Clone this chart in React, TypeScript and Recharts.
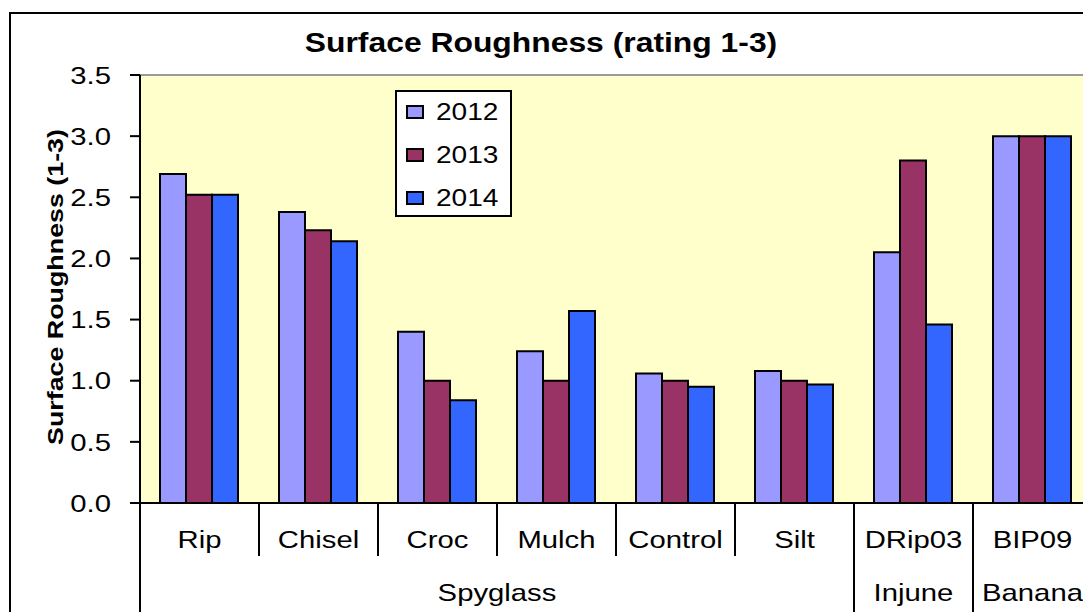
import { BarChart, Bar, XAxis, YAxis, CartesianGrid, Legend, ReferenceLine } from 'recharts';

const categories = ['Rip', 'Chisel', 'Croc', 'Mulch', 'Control', 'Silt', 'DRip03', 'BIP09'];
const sites = ['Spyglass', 'Injune', 'Banana'];
const siteSizes = [6, 1, 1];

const rating2012 = [2.69, 2.38, 1.4, 1.24, 1.06, 1.08, 2.05, 3.0];
const rating2013 = [2.52, 2.23, 1.0, 1.0, 1.0, 1.0, 2.8, 3.0];
const rating2014 = [2.52, 2.14, 0.84, 1.57, 0.95, 0.97, 1.46, 3.0];

const yTicks = [0, 0.5, 1, 1.5, 2, 2.5, 3, 3.5];

const series = [
  { key: 'y2012', name: '2012', color: '#9999FF' },
  { key: 'y2013', name: '2013', color: '#993366' },
  { key: 'y2014', name: '2014', color: '#3366FF' },
];

const data = categories.map((name, i) => ({
  name,
  y2012: rating2012[i],
  y2013: rating2013[i],
  y2014: rating2014[i],
}));

// index of the first category of each site
const siteStarts = siteSizes.map((_, i) => siteSizes.slice(0, i).reduce((a, b) => a + b, 0));

const FONT = "'Liberation Sans', Arial, sans-serif";
const STRETCH = 1.22; // the original text is drawn wide
const LABEL_SIZE = 24;

const CHART_W = 1100;
const CHART_H = 640;
const PLOT_LEFT = 140;
const PLOT_RIGHT_GAP = 8;
const PLOT_TOP = 75;
const X_AXIS_H = 137;

function CategoryTick(props: any) {
  const { x, y, payload } = props;
  const index = categories.indexOf(payload.value);
  const half =
    payload.offset || (CHART_W - PLOT_LEFT - PLOT_RIGHT_GAP) / categories.length / 2;
  const siteIdx = siteStarts.indexOf(index);
  const isStart = siteIdx >= 0;
  const isLast = index === categories.length - 1;
  return (
    <g>
      <line
        x1={x - half}
        x2={x - half}
        y1={y}
        y2={y + (isStart ? 140 : 53)}
        stroke="#000"
        strokeWidth={2}
      />
      {isLast && (
        <line x1={x + half} x2={x + half} y1={y} y2={y + 140} stroke="#000" strokeWidth={2} />
      )}
      <text
        transform={`translate(${x},${y + 45}) scale(${STRETCH},1)`}
        textAnchor="middle"
        fontSize={LABEL_SIZE}
        fontFamily={FONT}
        fill="#000"
      >
        {payload.value}
      </text>
      {isStart && (
        <text
          transform={`translate(${x + (siteSizes[siteIdx] - 1) * half},${y + 98}) scale(${STRETCH},1)`}
          textAnchor="middle"
          fontSize={LABEL_SIZE}
          fontFamily={FONT}
          fill="#000"
        >
          {sites[siteIdx]}
        </text>
      )}
    </g>
  );
}

function ValueTick(props: any) {
  const { x, y, payload } = props;
  return (
    <text
      transform={`translate(${x},${y}) scale(${STRETCH},1)`}
      dy="0.36em"
      textAnchor="end"
      fontSize={LABEL_SIZE}
      fontFamily={FONT}
      fill="#000"
    >
      {Number(payload.value).toFixed(1)}
    </text>
  );
}

function YearLegend(props: any) {
  const items = props.payload || [];
  return (
    <div
      style={{
        width: 117,
        height: 127,
        boxSizing: 'border-box',
        border: '2px solid #000',
        background: '#fff',
        position: 'relative',
        fontFamily: FONT,
      }}
    >
      {items.map((item: any, i: number) => (
        <div
          key={item.value}
          style={{
            position: 'absolute',
            left: 9,
            top: 20 + i * 43 - 12,
            height: 24,
            display: 'flex',
            alignItems: 'center',
          }}
        >
          <span
            style={{
              display: 'inline-block',
              width: 18,
              height: 14,
              boxSizing: 'border-box',
              border: '2px solid #000',
              background: item.color,
            }}
          />
          <span
            style={{
              marginLeft: 12,
              fontSize: 23,
              lineHeight: '24px',
              color: '#000',
              display: 'inline-block',
              transform: `scaleX(${STRETCH})`,
              transformOrigin: 'left center',
            }}
          >
            {item.value}
          </span>
        </div>
      ))}
    </div>
  );
}

export default function App() {
  return (
    <div
      style={{
        position: 'fixed',
        left: 0,
        top: 0,
        width: 1083,
        height: 612,
        overflow: 'hidden',
        background: '#fff',
      }}
    >
      <div
        style={{
          position: 'absolute',
          left: 9,
          top: 12,
          width: 1200,
          height: 700,
          border: '2px solid #000',
          boxSizing: 'border-box',
        }}
      />
      <div style={{ position: 'absolute', left: 0, top: 0 }}>
        <BarChart
          width={CHART_W}
          height={CHART_H}
          data={data}
          margin={{ top: PLOT_TOP, right: PLOT_RIGHT_GAP, left: 0, bottom: 0 }}
          barCategoryGap={20}
          barGap={0}
        >
          <CartesianGrid fill="#FFFFCC" stroke="none" horizontal={false} vertical={false} />
          <ReferenceLine y={3.5} stroke="#9a9a9a" strokeWidth={2} />
          <XAxis
            dataKey="name"
            interval={0}
            height={X_AXIS_H}
            tickSize={0}
            tickMargin={0}
            tickLine={false}
            axisLine={{ stroke: '#000', strokeWidth: 2 }}
            tick={<CategoryTick />}
          />
          <YAxis
            width={PLOT_LEFT}
            domain={[0, 3.5]}
            ticks={yTicks}
            interval={0}
            tickSize={10}
            tickMargin={19}
            axisLine={{ stroke: '#000', strokeWidth: 2 }}
            tickLine={{ stroke: '#000', strokeWidth: 2 }}
            tick={<ValueTick />}
          />
          <Legend
            layout="vertical"
            align="center"
            verticalAlign="middle"
            content={<YearLegend />}
            wrapperStyle={{ left: 395, top: 90, width: 117, height: 127 }}
          />
          {series.map((s) => (
            <Bar
              key={s.key}
              dataKey={s.key}
              name={s.name}
              fill={s.color}
              stroke="#000"
              strokeWidth={2}
              isAnimationActive={false}
            />
          ))}
        </BarChart>
      </div>
      <svg
        width={1083}
        height={612}
        style={{ position: 'absolute', left: 0, top: 0, pointerEvents: 'none' }}
      >
        <text
          transform="translate(541,52) scale(1.18,1)"
          textAnchor="middle"
          fontSize={27}
          fontWeight="bold"
          fontFamily={FONT}
          fill="#000"
        >
          Surface Roughness (rating 1-3)
        </text>
        <text
          transform="translate(63,287) rotate(-90) scale(1.22,1)"
          textAnchor="middle"
          fontSize={22}
          fontWeight="bold"
          fontFamily={FONT}
          fill="#000"
        >
          Surface Roughness (1-3)
        </text>
      </svg>
    </div>
  );
}
